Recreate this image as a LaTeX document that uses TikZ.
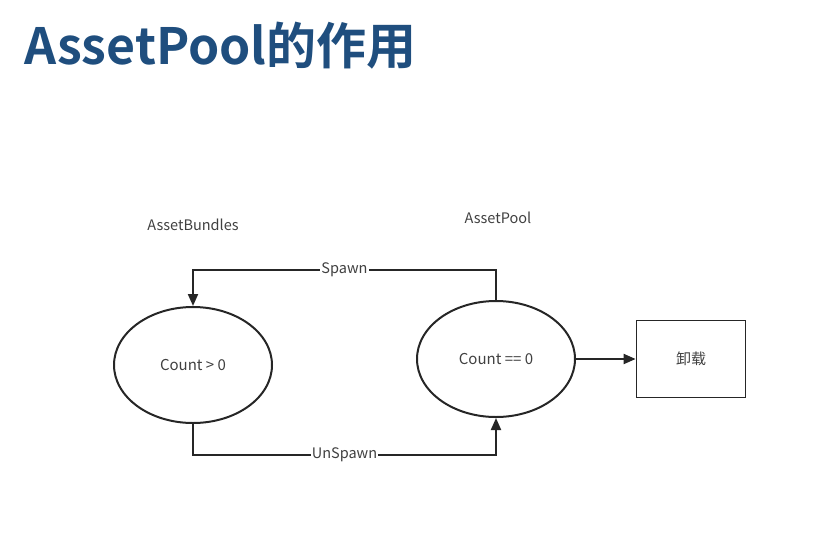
\documentclass[tikz,border=0pt]{standalone}
\usepackage{fontspec}
\setmainfont{Noto Sans CJK SC}
\newfontfamily\titlefont{Noto Sans CJK SC Bold}
\usepackage{tikz}
\usetikzlibrary{shapes,arrows.meta,positioning}
\definecolor{titleblue}{HTML}{1F4E7E}
\definecolor{inkgray}{HTML}{262626}
\tikzset{state/.style={draw=inkgray,line width=2pt,ellipse,minimum width=158pt,minimum height=116pt,font=\fontsize{15}{17}\selectfont,text=black!75},
         unload/.style={draw=inkgray,line width=1.8pt,minimum width=109pt,minimum height=77pt,font=\fontsize{15}{17}\selectfont,text=black!75},
         flow/.style={draw=inkgray,line width=2pt,-{Triangle[length=12pt,width=10pt]}},
         lbl/.style={font=\fontsize{14.5}{17}\selectfont,text=black!75}}
\begin{document}
\begin{tikzpicture}[x=1pt,y=-1pt]
\useasboundingbox(0,0)rectangle(824,557);
\node[anchor=base west,inner sep=0,text=titleblue,font=\titlefont\fontsize{50}{54}\selectfont](title)at(24,64){AssetPool的作用};
\node[state](AB)at(193,365){Count > 0};
\node[state](AP)at(496,359){Count == 0};
\node[unload](U)at(691,359){卸载};
\node[lbl](ABname)at(193,225){AssetBundles};
\node[lbl](APname)at(498,218){AssetPool};
\coordinate(sp)at(193,270);\coordinate(usp)at(193,455);
\draw[flow](AP.north)|-(sp)node[pos=0.75,fill=white,inner sep=1pt,lbl]{Spawn}--(AB.north);
\draw[flow](AB.south)--(usp)-|(AP.south)node[pos=0.25,fill=white,inner sep=1pt,lbl]{UnSpawn};
\draw[flow](AP.east)--(U.west);
\end{tikzpicture}
\end{document}
